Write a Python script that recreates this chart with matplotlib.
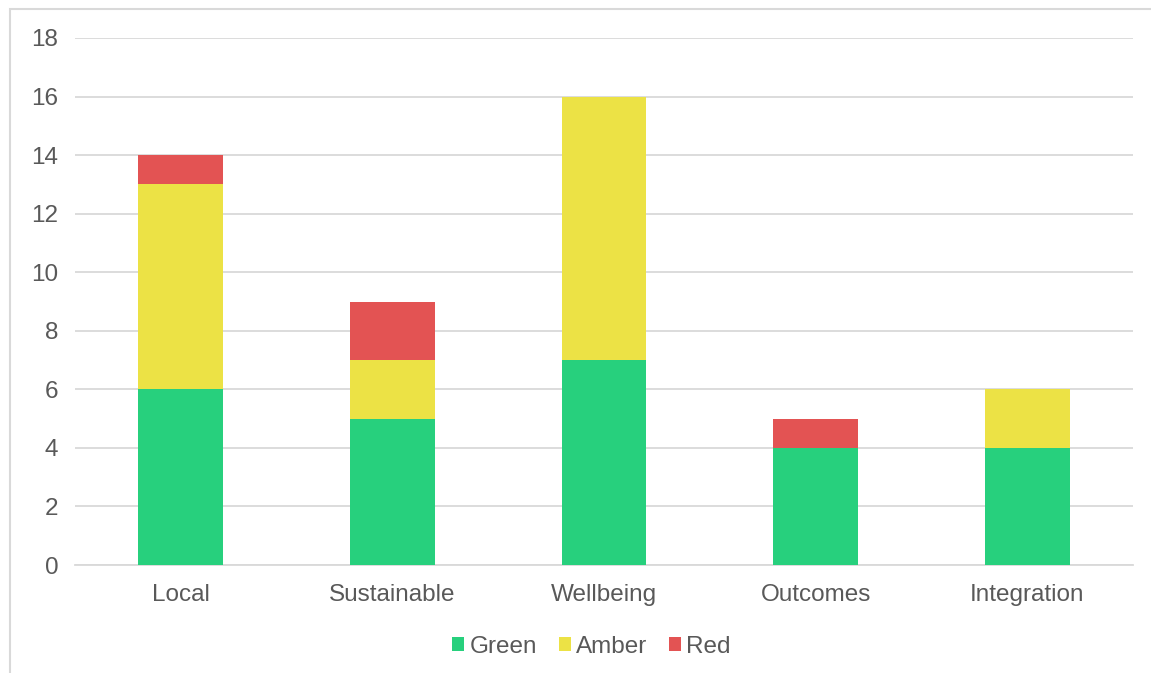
import numpy as np
import matplotlib
matplotlib.use("Agg")
import matplotlib.pyplot as plt
from matplotlib.patches import Rectangle

categories = ["Local", "Sustainable", "Wellbeing", "Outcomes", "Integration"]
green = [6, 5, 7, 4, 4]
amber = [7, 2, 9, 0, 2]
red = [1, 2, 0, 1, 0]
yticks = [0, 2, 4, 6, 8, 10, 12, 14, 16, 18]

plt.rcParams['font.family'] = ['Liberation Sans', 'DejaVu Sans']
txt = '#595959'

fig = plt.figure(figsize=(11.51, 6.73), dpi=100)
ax = fig.add_axes([75/1151, 1-565/673, (1133-75)/1151, (565-38)/673])

# chart frame
fig.patches.append(Rectangle((10/1151, -0.05), 1.2, 1-9/673+0.05, transform=fig.transFigure,
                             fill=False, edgecolor='#d9d9d9', linewidth=1.5))

x = np.arange(len(categories))
g = np.array(green)
a = np.array(amber)
r = np.array(red)
w = 0.4
ax.bar(x, g, w, color='#27D07D', label='Green', zorder=3)
ax.bar(x, a, w, bottom=g, color='#ECE245', label='Amber', zorder=3)
ax.bar(x, r, w, bottom=g + a, color='#E35353', label='Red', zorder=3)

ax.set_xlim(-0.5, len(categories) - 0.5)
ax.set_ylim(0, 18)
ax.set_yticks(yticks)
ax.set_xticks(x)
ax.set_xticklabels(categories)
ax.grid(axis='y', color='#d9d9d9', linewidth=1.3, zorder=0)
for s in ['top', 'right', 'left']:
    ax.spines[s].set_visible(False)
ax.spines['bottom'].set_color('#d9d9d9')
ax.spines['bottom'].set_linewidth(1.3)
ax.tick_params(axis='both', length=0, labelsize=17.5, labelcolor=txt)
ax.tick_params(axis='y', pad=12)
ax.tick_params(axis='x', pad=14)

ax.legend(loc='center', bbox_to_anchor=(0.488, -0.155), ncol=3, frameon=False,
          fontsize=17.5, labelcolor=txt, handlelength=0.5, handleheight=0.5,
          handletextpad=0.2, columnspacing=0.9)

fig.savefig('out.png', dpi=100, facecolor='white')
